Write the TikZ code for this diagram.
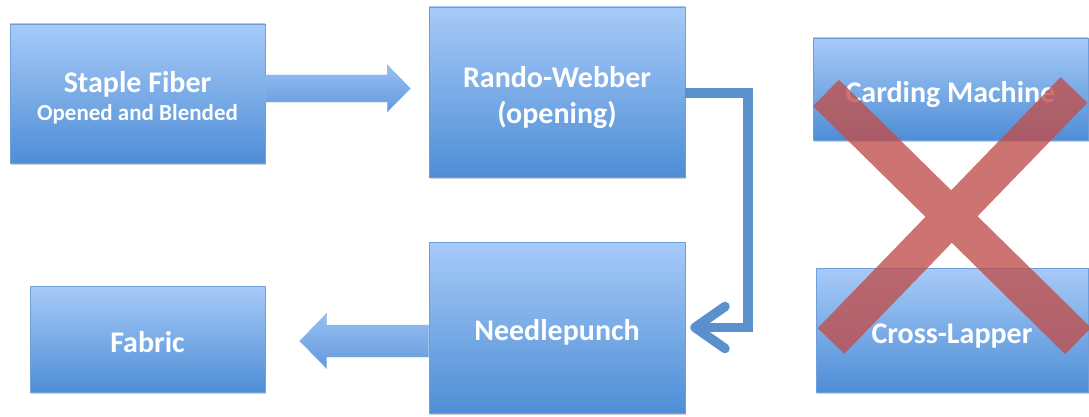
\documentclass[tikz,border=0pt]{standalone}
\usepackage{fontspec}
\setmainfont{Carlito}
\usetikzlibrary{arrows.meta,shadows}
\definecolor{boxtop}{HTML}{A7CAF8}
\definecolor{boxbot}{HTML}{4E8ED6}
\definecolor{boxedge}{HTML}{6E9FDB}
\definecolor{arrtop}{HTML}{97C0F3}
\definecolor{arrbot}{HTML}{6399DC}
\definecolor{elbowc}{HTML}{5C90CC}
\definecolor{crossc}{HTML}{C0504D}
\newcommand\boxtext[1]{\raisebox{-6pt}[\height][\depth]{\begin{tabular}{@{}c@{}}#1\end{tabular}}}
\tikzset{
  procbox/.style={rectangle, inner sep=0pt, top color=boxtop, bottom color=boxbot,
    draw=boxedge, line width=0.6pt, text=white, align=center,
    font=\bfseries\fontsize{30}{36}\selectfont,
    drop shadow={shadow xshift=1pt, shadow yshift=-2pt, opacity=0.3, fill=black!60}},
  blockarrow/.style={top color=arrtop, bottom color=arrbot, draw=boxedge!80, line width=0.4pt},
  elbow/.style={draw=elbowc, line width=9.5pt, line join=miter,
    -{Straight Barb[length=30pt,width=42pt,line cap=round,line join=round]}, shorten >=5pt},
  crossmark/.style={draw=crossc, line width=37pt, line cap=butt, opacity=0.8}
}
\begin{document}
\begin{tikzpicture}[x=1pt,y=1pt]
\useasboundingbox (0,0) rectangle (1089,416);
\node[procbox, minimum width=255pt, minimum height=139pt] (s) at (137.5,322.5)
  {\boxtext{Staple Fiber\\[-8pt]{\fontsize{23}{28}\selectfont Opened and Blended}}};
\node[procbox, minimum width=256pt, minimum height=170pt] (r) at (557,324)
  {\boxtext{Rando-Webber\\(opening)}};
\node[procbox, minimum width=256pt, minimum height=171pt] (n) at (557,88.5)
  {\boxtext{Needlepunch}};
\node[procbox, minimum width=235pt, minimum height=106pt] (f) at (147.5,77)
  {\boxtext{Fabric}};
\node[procbox, minimum width=275pt, minimum height=102pt] (c) at (950.5,327)
  {\boxtext{Carding Machine}};
\node[procbox, minimum width=272pt, minimum height=124pt] (x) at (952,86)
  {\boxtext{Cross-Lapper}};
% block arrow Staple -> Rando
\coordinate (sa) at (s.east |- 0,327.5);
\path[blockarrow] (sa) ++(0,13.5) -- ++(122,0) -- ++(0,10) -- ++(23,-23.5)
  -- ++(-23,-23.5) -- ++(0,10) -- ++(-122,0) -- cycle;
% block arrow Needlepunch -> Fabric
\coordinate (na) at (n.west |- 0,75);
\path[blockarrow] (na) ++(0,16) -- ++(-102,0) -- ++(0,11.5) -- ++(-27,-27.5)
  -- ++(27,-27.5) -- ++(0,11.5) -- ++(102,0) -- cycle;
% elbow connector Rando -> Needlepunch
\coordinate (bend) at (748,88.5);
\draw[elbow] (r.east |- 0,323) -| (bend) -- (n.east |- 0,88.5);
% red cross
\draw[crossmark] (826,323) -- (1078,75) (1074,326) -- (831,75);
\end{tikzpicture}
\end{document}
